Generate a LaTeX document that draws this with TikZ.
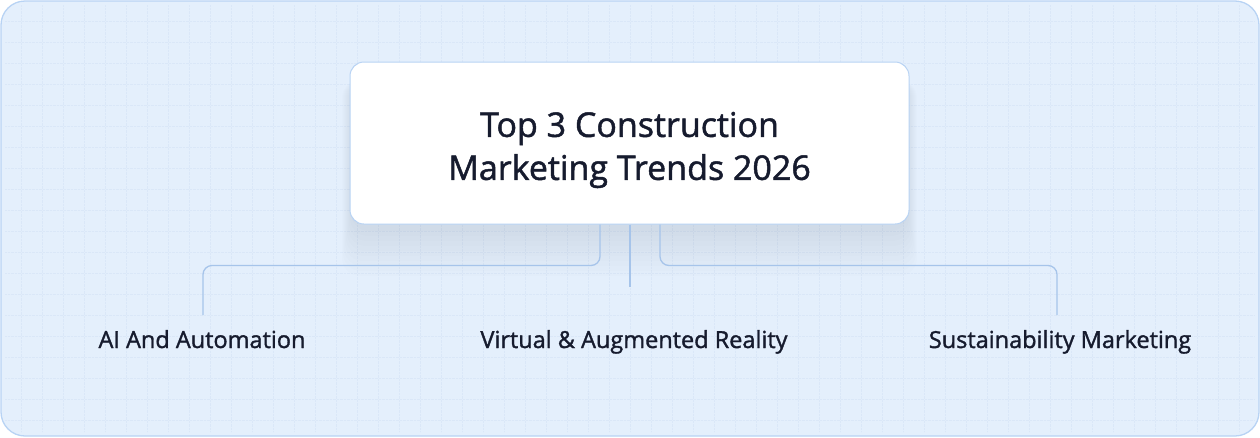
\documentclass[tikz,border=0pt]{standalone}
\usepackage{xcolor}
\usepackage{fontspec}
\setmainfont{Open Sans}
\newfontfamily\medfont[FakeBold=1.4]{Open Sans}
\usepackage{tikz}
\usetikzlibrary{positioning,shapes,fit}
\usetikzlibrary{calc}

\definecolor{bgblue}{HTML}{E4EFFC}
\definecolor{edgeblue}{HTML}{B8D3F4}
\definecolor{gridblue}{HTML}{DAE7F8}
\definecolor{linkblue}{HTML}{A6C4EA}
\definecolor{inkdark}{HTML}{161B2E}

\tikzset{
	link/.style={draw=linkblue,line width=1.3pt,rounded corners=9pt},
	trend/.style={text=inkdark,font=\medfont\fontsize{23.5}{28}\selectfont,inner sep=0pt,anchor=base},
}

\begin{document}
\begin{tikzpicture}[x=1pt,y=-1pt]
			\useasboundingbox (0,0) rectangle (1260,437);
			\draw[draw=edgeblue,fill=bgblue,line width=1.3pt,rounded corners=24pt] (1,1) rectangle (1259,436);
			% faint grid
			\foreach \x in {21,42,...,1239}{
					\draw[gridblue,densely dotted,line width=0.4pt] (\x,5) -- (\x,432);
				}
			\foreach \y in {21,42,...,420}{
					\draw[gridblue,densely dotted,line width=0.4pt] (5,\y) -- (1255,\y);
				}
			% soft shadow under the title box
			\foreach \i in {1,...,10}{
					\fill[blue!40!black,opacity=0.008,rounded corners=18pt] (352-\i,80) rectangle (907+\i,226+5*\i);
				}
			\node[draw=edgeblue,fill=white,line width=1pt,rounded corners=14pt,minimum width=559pt,minimum height=162pt] (title) at (629.5,143) {};
			\node[align=center,text=inkdark,font=\medfont\fontsize{34}{43}\selectfont] (titletext) at (629.5,150) {Top 3 Construction\\Marketing Trends 2026};
			\node[trend] (ai) at (202,348) {AI And Automation};
			\node[trend] (vr) at (634,348) {Virtual \& Augmented Reality};
			\node[trend] (sm) at (1060,348) {Sustainability Marketing};
			\coordinate (aiTop) at (203,315);
			\coordinate (vrTop) at (630,287);
			\coordinate (smTop) at (1057,315);
			\draw[link] ([xshift=-29.5pt]title.south) -- ++(0,41) -| (aiTop);
			\draw[link] ([xshift=0.5pt]title.south) -- (vrTop);
			\draw[link] ([xshift=30.5pt]title.south) -- ++(0,41) -| (smTop);
		\end{tikzpicture}
\end{document}
